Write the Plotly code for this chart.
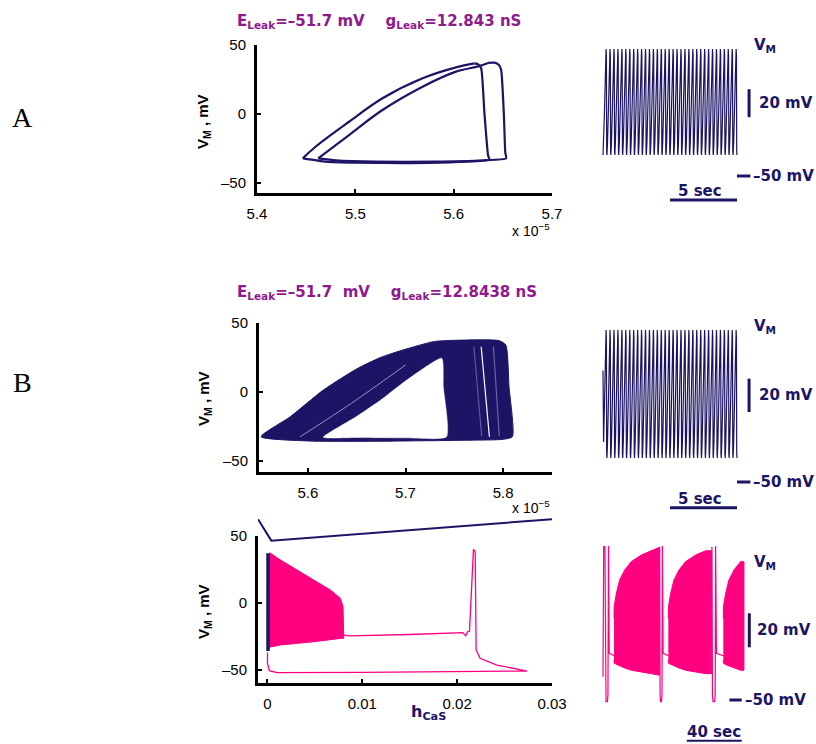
import plotly.graph_objects as go

W, H = 816, 744
NAVY = '#1C1464'
PINK = '#FF0080'
PURPLE = '#8E1A8E'
BOLD = 'DejaVu Sans'
TICKF = 'Liberation Sans, Arial, sans-serif'

# ---------------- DATA ----------------
# Panel A phase plane: h_CaS (units of 1e-5) vs V_M (mV); upper branch + return path per loop
A_loop1_up_h = [5.4466, 5.4595, 5.4936, 5.5276, 5.5684, 5.6024, 5.6211]
A_loop1_up_v = [-32.1, -23.7, -5.6, 11.4, 25.9, 33.8, 36.7]
A_loop1_ret_h = [5.6211, 5.6250, 5.6280, 5.6313, 5.6350, 5.6364, 5.6000, 5.5500, 5.5000, 5.4700, 5.4466]
A_loop1_ret_v = [36.7, 36.0, 33.0, 0.5, -30.0, -33.0, -34.8, -35.5, -35.3, -34.5, -32.1]
A_loop2_up_h = [5.4622, 5.4936, 5.5276, 5.5684, 5.6024, 5.6250, 5.6350]
A_loop2_up_v = [-32.1, -15.2, 2.9, 19.8, 30.7, 34.5, 37.0]
A_loop2_ret_h = [5.6350, 5.6415, 5.6460, 5.6483, 5.6510, 5.6525, 5.6534, 5.6300, 5.5800, 5.5200, 5.4800, 5.4622]
A_loop2_ret_v = [37.0, 37.2, 35.5, 31.9, 0.5, -28.0, -32.1, -33.5, -34.5, -34.5, -33.5, -32.1]
A_xticks = [5.4, 5.5, 5.6, 5.7]

# Panel A voltage trace (tonic spiking)
A_trace_duration_s = 10.0
A_spike_count = 34
A_cycle_phase = [0.0, 0.15, 0.35, 0.55, 0.72, 0.78, 0.86, 0.93, 1.0]
A_cycle_v = [-35.0, -26.0, -6.0, 16.0, 33.0, 40.7, 36.0, -33.0, -35.0]

# Panel B phase plane: filled band (outer outline and inner hole), h in 1e-5
B_outer_h = [5.5522, 5.5821, 5.6159, 5.6495, 5.6747, 5.6975, 5.7286, 5.7400, 5.7960, 5.8027, 5.8060, 5.8094, 5.8000, 5.7600, 5.7000, 5.6500, 5.6000, 5.5522]
B_outer_v = [-32.4, -17.9, 1.4, 16.5, 25.1, 30.5, 36.5, 37.2, 37.2, 34.0, 3.9, -32.4, -34.3, -35.0, -35.5, -35.8, -35.5, -32.4]
B_hole_h = [5.6159, 5.6495, 5.6747, 5.7000, 5.7371, 5.7387, 5.7420, 5.7000, 5.6500, 5.6159]
B_hole_v = [-32.8, -17.9, -5.8, 8.0, 24.4, 3.9, -32.4, -33.2, -33.0, -32.8]
B_streak_up_h = [5.5922, 5.6450, 5.7000]
B_streak_up_v = [-32.4, -8.0, 19.6]
B_streak_right_h = [[5.7700, 5.7780], [5.7775, 5.7859], [5.7900, 5.7960]]
B_streak_right_v = [[33.0, -32.0], [32.8, -32.4], [33.0, -32.0]]
B_xticks = [5.6, 5.7, 5.8]

# Panel B voltage trace
B_trace_duration_s = 10.0
B_spike_count = 34
B_start_v = 16.7
B_cycle_phase = [0.0, 0.15, 0.35, 0.55, 0.72, 0.78, 0.86, 0.93, 1.0]
B_cycle_v = [-35.6, -26.0, -6.0, 16.0, 34.0, 41.0, 36.0, -33.0, -35.6]

# Bottom phase plane (h_CaS actual units)
C_band_upper_h = [0.00010, 0.00024, 0.00137, 0.00313, 0.00487, 0.00663, 0.00768, 0.00797, 0.00803]
C_band_upper_v = [-33.1, 37.5, 32.1, 24.6, 17.2, 9.7, 3.5, -2.7, -23.9]
C_band_lower_h = [0.00803, 0.00770, 0.00487, 0.00137, 0.00010]
C_band_lower_v = [-26.4, -26.4, -28.9, -31.3, -33.1]
C_loop_h = [0.00803, 0.0087, 0.0150, 0.0206, 0.0209, 0.0211, 0.0213, 0.02172, 0.0219, 0.0220, 0.02242, 0.02418, 0.02737, 0.0200, 0.0100, 0.0010, 0.0002, 0.0000, 0.0000]
C_loop_v = [-23.9, -24.5, -23.5, -22.1, -24.5, -21.5, -21.0, 40.0, 38.5, -35.0, -41.3, -46.3, -50.8, -51.3, -51.7, -52.0, -50.5, -45.0, -37.0]
C_top_line_h = [-0.0010, 0.0004, 0.0300]
C_top_line_v = [62.5, 46.5, 62.5]
C_xticks = [0, 0.01, 0.02, 0.03]
C_xticktext = ['0', '0.01', '0.02', '0.03']

# Bottom voltage trace (bursting), time in s
C_burst_start_s = [8.0, 47.5, 87.5]
C_burst_len_s = [33.0, 31.5, 15.0]
C_env_t = [0.0, 0.1, 1.7, 4.1, 7.8, 12.6, 19.9, 27.1, 32.0]
C_env_upper = [-2.0, 4.9, 12.7, 20.6, 26.5, 31.4, 35.3, 37.8, 39.8]
C_env_lower = [-26.5, -28.4, -29.2, -30.0, -31.2, -32.5, -33.5, -34.5, -35.3]
C_line_t = [0.0, 0.5, 1.4, 1.8, 2.2, 3.2, 3.6, 4.0, 4.5, 8.0, None,
            41.0, 41.2, 41.5, 41.9, 42.5, 42.9, 43.2, 43.7, 47.5, None,
            79.0, 79.2, 79.6, 80.0, 81.2, 81.6, 81.9, 82.5, 87.5]
C_line_v = [-36.3, 40.2, 40.2, -47.0, -51.0, -51.0, -47.0, 40.6, -22.5, -24.0, None,
            39.8, 40.0, -47.0, -51.0, -51.0, -47.0, 40.6, -22.5, -24.0, None,
            39.2, 40.0, -47.0, -51.0, -51.0, -47.0, 40.6, -22.5, -24.0]

# scale bars (data units)
SB_mV = 20
SB_A_sec = 5
SB_C_sec = 40

# ---------------- FIGURE ----------------
def dom_x(a, b):
    return [a / W, b / W]

def dom_y(top, bottom):
    return [1 - bottom / H, 1 - top / H]

fig = go.Figure()

def line(x, y, ax, color, width, shape='linear', smoothing=1.0, **kw):
    ln = dict(color=color, width=width, shape=shape)
    if shape == 'spline':
        ln['smoothing'] = smoothing
    fig.add_trace(go.Scatter(x=x, y=y, mode='lines', xaxis='x' + ax, yaxis='y' + ax,
                             line=ln, hoverinfo='skip', showlegend=False, **kw))

def poly(x, y, ax, color, lw=1, lcolor=None, shape='linear', smoothing=1.0):
    ln = dict(color=lcolor or color, width=lw, shape=shape)
    if shape == 'spline':
        ln['smoothing'] = smoothing
    fig.add_trace(go.Scatter(x=x, y=y, mode='lines', fill='toself', fillcolor=color,
                             xaxis='x' + ax, yaxis='y' + ax, line=ln,
                             hoverinfo='skip', showlegend=False))

def cyc_trace(duration, n, phase, vals, start_v=None):
    period = duration / n
    xs, ys = [], []
    for k in range(n):
        for p, v in zip(phase, vals):
            xs.append((k + p) * period)
            ys.append(v)
    if start_v is not None:
        ys[0] = start_v
    return xs, ys

# Panel A phase
line(A_loop1_up_h, A_loop1_up_v, '', NAVY, 2.2, 'spline', 1.0)
line(A_loop1_ret_h, A_loop1_ret_v, '', NAVY, 2.2, 'spline', 0.5)
line(A_loop2_up_h, A_loop2_up_v, '', NAVY, 2.2, 'spline', 1.0)
line(A_loop2_ret_h, A_loop2_ret_v, '', NAVY, 2.2, 'spline', 0.5)

# Panel A trace
xa, ya = cyc_trace(A_trace_duration_s, A_spike_count, A_cycle_phase, A_cycle_v)
line(xa, ya, '2', NAVY, 1.2)
t_end = A_trace_duration_s
line([t_end + 0.9, t_end + 0.9], [-8, -8 + SB_mV], '2', NAVY, 3)
line([t_end, t_end + 1.0], [-50, -50], '2', NAVY, 3)
line([t_end - SB_A_sec, t_end], [-67.1, -67.1], '2', NAVY, 3)

# Panel B phase
poly(B_outer_h, B_outer_v, '3', NAVY, shape='spline', smoothing=0.6)
poly(B_hole_h, B_hole_v, '3', 'white', 0.5, 'white', shape='spline', smoothing=0.5)
line(B_streak_up_h, B_streak_up_v, '3', '#9591c4', 1, 'spline', 1.0)
for hs, vs, c in zip(B_streak_right_h, B_streak_right_v, ['#5d5898', 'white', '#6a66a4']):
    line(hs, vs, '3', c, 1.2)

# Panel B trace
xb, yb = cyc_trace(B_trace_duration_s, B_spike_count, B_cycle_phase, B_cycle_v, B_start_v)
line(xb, yb, '4', NAVY, 1.2)
t_end = B_trace_duration_s
line([t_end + 0.9, t_end + 0.9], [-8.1, -8.1 + SB_mV], '4', NAVY, 3)
line([t_end, t_end + 1.0], [-50, -50], '4', NAVY, 3)
line([t_end - SB_A_sec, t_end], [-65.4, -65.4], '4', NAVY, 3)

# Bottom phase
poly(C_band_upper_h + C_band_lower_h, C_band_upper_v + C_band_lower_v, '5', PINK)
line(C_loop_h, C_loop_v, '5', PINK, 1.3)
line([h * 1e-5 for h in B_outer_h], B_outer_v, '5', NAVY, 3.5)
line(C_top_line_h, C_top_line_v, '7', NAVY, 2)

# Bottom trace
for s, L in zip(C_burst_start_s, C_burst_len_s):
    idx = [i for i, r in enumerate(C_env_t) if r <= L]
    tt = [s + C_env_t[i] for i in idx] + [s + L]
    up = [C_env_upper[i] for i in idx] + [C_env_upper[idx[-1]]]
    lo = [C_env_lower[i] for i in idx] + [C_env_lower[idx[-1]]]
    poly(tt + tt[::-1], up + lo[::-1], '6', PINK, 1)
line(C_line_t, C_line_v, '6', PINK, 1.2, connectgaps=False)
line([106.4, 106.4], [-19, -19 + SB_mV], '6', NAVY, 3)
line([91.9, 100.9], [-50, -50], '6', NAVY, 3)
line([100.9 - SB_C_sec, 100.9], [-73.9, -73.9], '6', NAVY, 2)

# ---------------- AXES ----------------
def phase_axes(xdom, ydom, xr, yr, xtv, xtt):
    common = dict(showline=True, linewidth=3, linecolor='black', ticks='inside', ticklen=4,
                  tickwidth=2, tickcolor='black', showgrid=False, zeroline=False,
                  automargin=False,
                  tickfont=dict(family=TICKF, size=15, color='black'), fixedrange=True)
    xa = dict(domain=xdom, range=xr, tickvals=xtv, ticktext=xtt, ticklabelstandoff=5, **common)
    ya = dict(domain=ydom, range=yr, tickvals=[-50, 0, 50], ticktext=['\u201350', '0', '50'],
              ticklabelstandoff=5, **common)
    return xa, ya

def hidden(xdom, ydom, xr, yr):
    return (dict(domain=xdom, range=xr, visible=False, fixedrange=True, automargin=False),
            dict(domain=ydom, range=yr, visible=False, fixedrange=True, automargin=False))

x1, y1 = phase_axes(dom_x(257, 552), dom_y(45, 193), [5.4, 5.7], [-57.2, 50],
                    A_xticks, [f'{v:.1f}' for v in A_xticks])
x3, y3 = phase_axes(dom_x(259, 552), dom_y(323, 472), [5.55, 5.85], [-58, 50],
                    B_xticks, [f'{v:.1f}' for v in B_xticks])
x5, y5 = phase_axes(dom_x(258, 552), dom_y(536, 683), [-0.001, 0.03], [-59.7, 50],
                    C_xticks, C_xticktext)
x2, y2 = hidden(dom_x(598, 800), dom_y(35, 205), [-5 / 13.4, 197 / 13.4], [-70.71, 50.71])
x4, y4 = hidden(dom_x(598, 800), dom_y(310, 520), [-5 / 13.4, 197 / 13.4], [-72.75, 53.0])
x6, y6 = hidden(dom_x(598, 816), dom_y(540, 744), [-5 / 1.375, 213 / 1.375], [-75.88, 44.12])
x7, y7 = hidden(dom_x(258, 552), dom_y(505, 683), [-0.001, 0.03], [-59.7, 73.1])

for k, (xa, ya) in enumerate([(x1, y1), (x2, y2), (x3, y3), (x4, y4), (x5, y5), (x6, y6), (x7, y7)], 1):
    s = '' if k == 1 else str(k)
    xa['anchor'] = 'y' + s
    ya['anchor'] = 'x' + s
    fig.layout['xaxis' + s] = xa
    fig.layout['yaxis' + s] = ya

# ---------------- TEXT ----------------
def txt(text, px, py, size=15, color=NAVY, family=BOLD, xanchor='left', yanchor='middle', angle=0):
    return dict(text=text, x=px / W, y=1 - py / H, xref='paper', yref='paper', showarrow=False,
                font=dict(size=size, color=color, family=family), xanchor=xanchor,
                yanchor=yanchor, textangle=angle)

nb = '&nbsp;'
ann = [
    txt('A', 22, 118, 28, 'black', 'Liberation Serif', 'center'),
    txt('B', 22, 382, 28, 'black', 'Liberation Serif', 'center'),
    txt('<b>E<sub>Leak</sub>=\u201351.7 mV' + nb * 4 + 'g<sub>Leak</sub>=12.843 nS</b>', 235, 22, 15, PURPLE),
    txt('<b>E<sub>Leak</sub>=\u201351.7' + nb * 2 + 'mV' + nb * 4 + 'g<sub>Leak</sub>=12.8438 nS</b>', 235, 292, 15, PURPLE),
    txt('<b>V<sub>M</sub> , mV</b>', 204, 122, 15, 'black', 'Liberation Sans', 'center', angle=-90),
    txt('<b>V<sub>M</sub> , mV</b>', 204, 399, 15, 'black', 'Liberation Sans', 'center', angle=-90),
    txt('<b>V<sub>M</sub> , mV</b>', 204, 612, 15, 'black', 'Liberation Sans', 'center', angle=-90),
    txt('x 10<sup>\u22125</sup>', 552, 230, 14, 'black', TICKF, 'right'),
    txt('x 10<sup>\u22125</sup>', 552, 507, 14, 'black', TICKF, 'right'),
    txt('<b>h<sub>CaS</sub></b>', 428, 712, 16, NAVY, BOLD, 'center'),
    # right panels
    txt('<b>V<sub>M</sub></b>', 752, 46), txt('<b>20 mV</b>', 757, 103),
    txt('<b>\u201350 mV</b>', 751, 176), txt('<b>5 sec</b>', 700, 191, xanchor='center'),
    txt('<b>V<sub>M</sub></b>', 752, 327), txt('<b>20 mV</b>', 757, 395),
    txt('<b>\u201350 mV</b>', 751, 482), txt('<b>5 sec</b>', 700, 499, xanchor='center'),
    txt('<b>V<sub>M</sub></b>', 752, 562), txt('<b>20 mV</b>', 755, 630),
    txt('<b>\u201350 mV</b>', 743, 700), txt('<b>40 sec</b>', 714, 732, xanchor='center'),
]

fig.update_layout(width=W, height=H, margin=dict(l=0, r=0, t=0, b=0, autoexpand=False),
                  paper_bgcolor='white', plot_bgcolor='rgba(0,0,0,0)',
                  showlegend=False, annotations=ann)

fig.write_html('out.html', config={'displayModeBar': False, 'staticPlot': True},
               post_script="document.body.style.margin='0';document.body.style.overflow='hidden';")
